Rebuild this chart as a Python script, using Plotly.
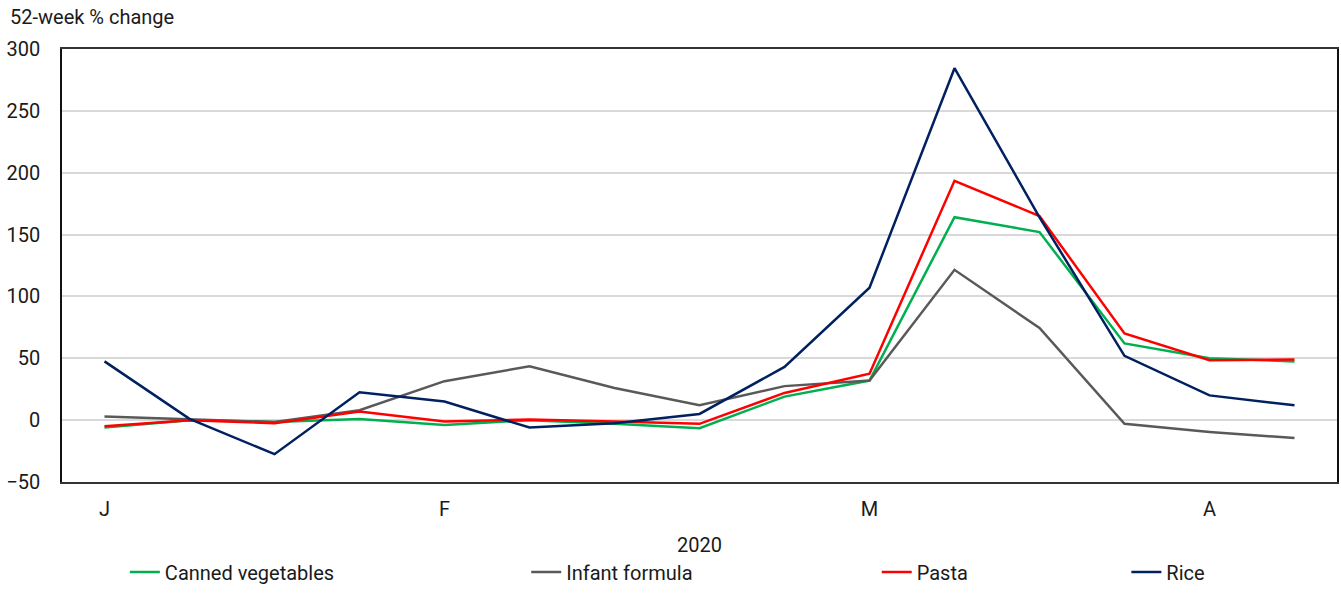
import plotly.graph_objects as go

weeks = list(range(15))
month_tick_idx = [0, 4, 9, 13]
month_labels = ["J", "F", "M", "A"]
year_label = "2020"

canned_vegetables = [-6, 0, -1.5, 1, -4, 0, -3, -6.5, 19, 32, 164, 152, 62, 50, 47.5]
infant_formula = [3, 1, -1.5, 8, 31.5, 43.5, 26, 12, 27.5, 32, 121.5, 74.5, -3, -9.5, -14.5]
pasta = [-5, 0, -2.5, 7, -1, 0.5, -1, -3, 22, 37.5, 193.5, 165, 70, 48.5, 49]
rice = [47.5, 1, -27.5, 22.5, 15, -6, -2.5, 5, 43, 107, 284.5, 164, 52, 20, 12]

series = [
    ("Canned vegetables", canned_vegetables, "#00b050"),
    ("Infant formula", infant_formula, "#595959"),
    ("Pasta", pasta, "#ff0000"),
    ("Rice", rice, "#002060"),
]
legend_x = [0.0493, 0.3641, 0.6390, 0.8348]

FONT = "Roboto, sans-serif"
TXT = "#1a1a1a"

fig = go.Figure()
for i, (name, vals, col) in enumerate(series):
    lg = "legend" if i == 0 else f"legend{i+1}"
    fig.add_trace(go.Scatter(x=weeks, y=vals, mode="lines", name=name,
                             line=dict(color=col, width=2.5), legend=lg))

legend_common = dict(orientation="h", yanchor="bottom", xanchor="left", y=-110/435,
                     font=dict(family=FONT, size=20, color=TXT),
                     bgcolor="rgba(0,0,0,0)", itemwidth=30)
layout_legends = {}
for i, lx in enumerate(legend_x):
    key = "legend" if i == 0 else f"legend{i+1}"
    layout_legends[key] = dict(legend_common, x=lx)

fig.update_layout(
    width=1341, height=594,
    margin=dict(l=62, r=2, t=49, b=110),
    paper_bgcolor="white", plot_bgcolor="white",
    font=dict(family=FONT, size=20, color=TXT),
    showlegend=True,
    **layout_legends,
    xaxis=dict(range=[-0.5, 14.5], tickmode="array", tickvals=month_tick_idx,
               ticktext=month_labels, showgrid=False, zeroline=False,
               showline=True, linecolor="#333333", linewidth=2, mirror=True,
               ticks="", ticklabelstandoff=8,
               title=dict(text=year_label, standoff=18,
                          font=dict(family=FONT, size=20, color=TXT))),
    yaxis=dict(range=[-50, 300], tickvals=[-50, 0, 50, 100, 150, 200, 250, 300],
               showgrid=True, gridcolor="#d9d9d9", gridwidth=1.5, zeroline=False,
               showline=True, linecolor="#111111", linewidth=1.5, mirror=True,
               ticks="", ticklabelstandoff=16),
    annotations=[dict(text="52-week % change", xref="paper", yref="paper",
                      x=-54/1277, y=1 + 32/435, xanchor="left", yanchor="middle",
                      showarrow=False, font=dict(family=FONT, size=20, color=TXT))],
)

fig.write_html("out.html")
